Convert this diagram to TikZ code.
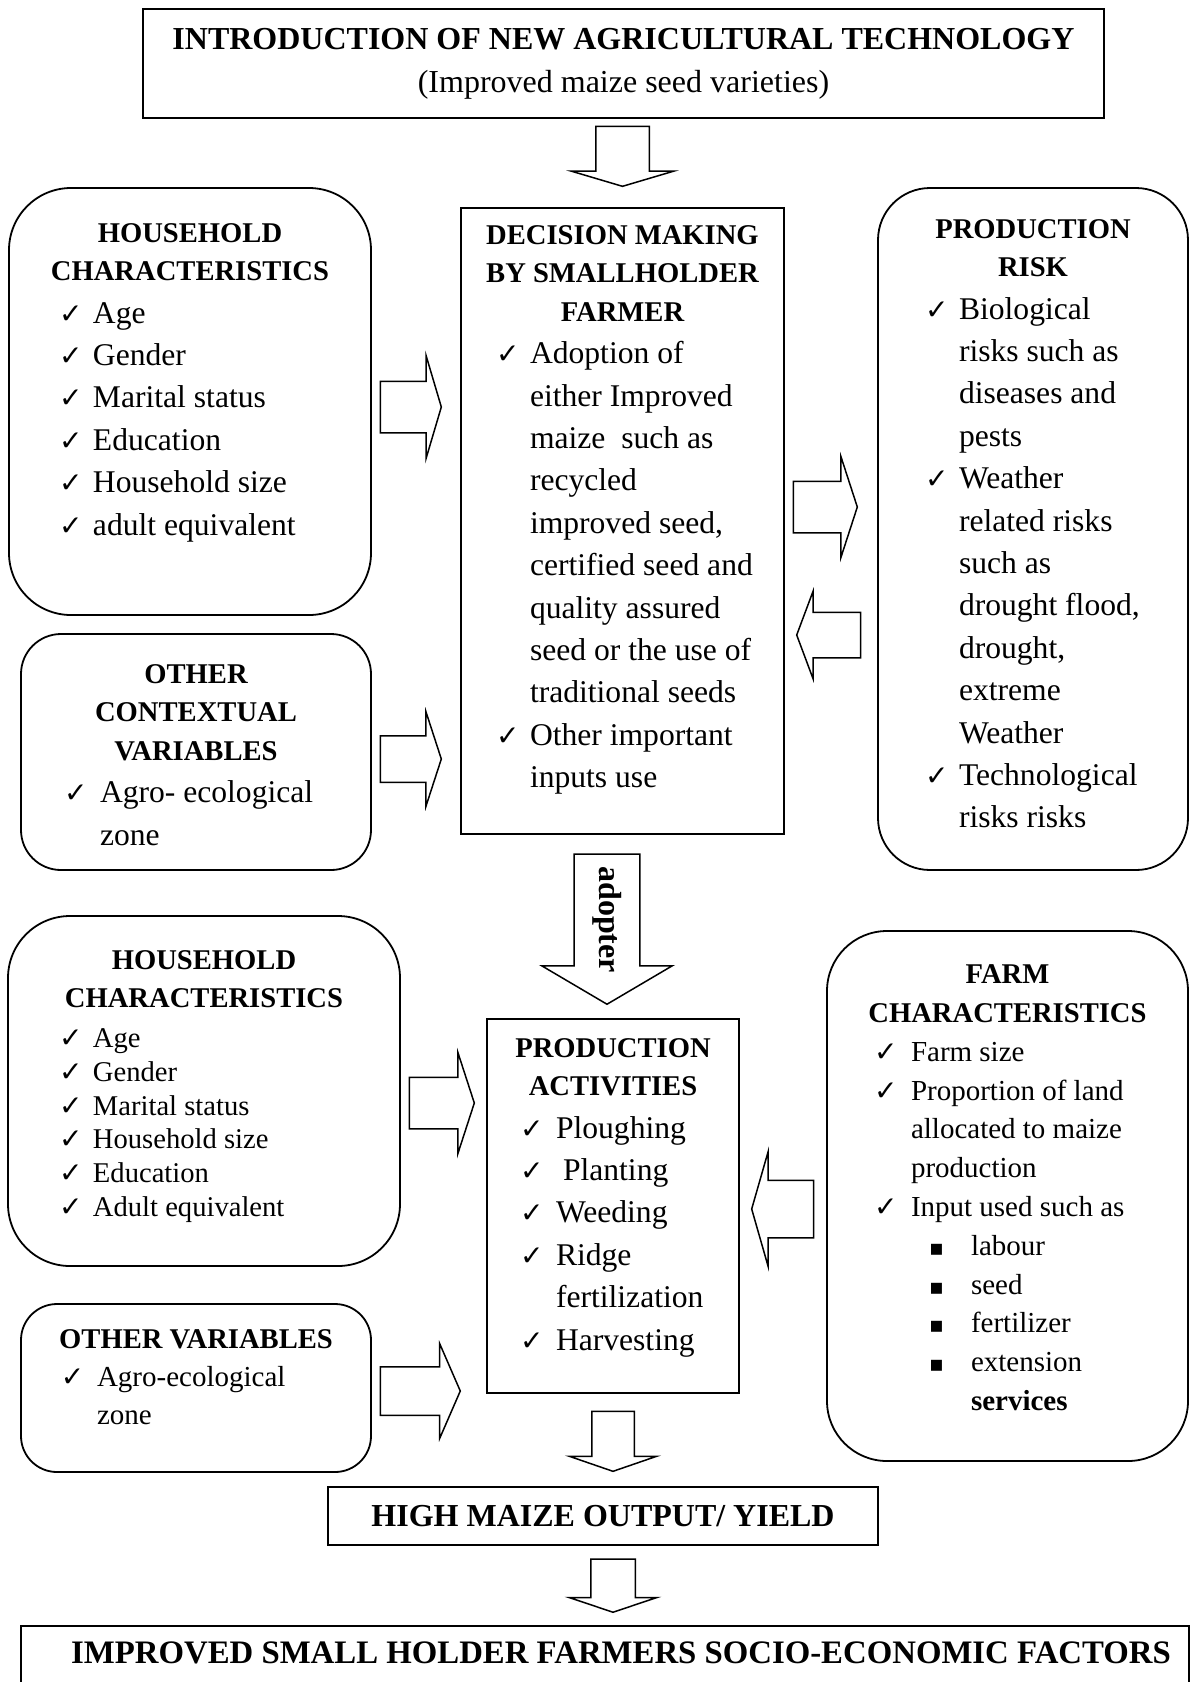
\documentclass[tikz,border=0pt]{standalone}
\usepackage{fontspec}
\setmainfont{Liberation Serif}
\newfontfamily\symfont{DejaVu Sans}
\usetikzlibrary{shapes.arrows,calc,positioning}
\newlength{\ckw}
\setlength{\ckw}{17pt}
\newcommand{\ckmark}{{\symfont\fontsize{14}{14}\selectfont ✓}}
\newcommand{\bulmark}{{\symfont\fontsize{11}{11}\selectfont ▪}}
\newcommand{\hd}[1]{{\fontsize{14.3}{19.3}\selectfont\bfseries\noindent\makebox[\hsize]{#1}\par}}
\newcommand{\ck}[1]{\par{\advance\hsize by 40pt\noindent\hangindent=\ckw\hangafter=1\let\\\newline\makebox[\ckw][l]{\ckmark}#1\par}}
\newcommand{\bl}[1]{\par{\advance\hsize by 40pt\noindent\hangindent=48.5pt\hangafter=1\let\\\newline\hspace*{27.5pt}\makebox[21pt][l]{\bulmark}#1\par}}
\tikzset{
  sqbox/.style={draw,line width=0.9pt,inner sep=0pt},
  rbox/.style={draw,line width=0.9pt,inner sep=0pt,rounded corners=#1},
  rbox/.default=31pt,
  txt/.style={anchor=north,inner sep=0pt,align=flush left,font=\fontsize{15.8}{21.2}\selectfont},
  ckgap/.code={\setlength{\ckw}{#1}},
  barrow/.style={single arrow,draw,line width=0.75pt,inner xsep=0pt,single arrow head indent=0pt,anchor=tip}
}
\begin{document}
\begin{tikzpicture}[x=0.5pt,y=-0.5pt]
\useasboundingbox (0,0) rectangle (1192,1682);

% top and bottom boxes
\node[sqbox,minimum width=480.5pt,minimum height=54.5pt,align=center,font=\fontsize{16}{21.5}\selectfont] (intro) at (623.5,63.5)
  {\textbf{INTRODUCTION OF NEW AGRICULTURAL TECHNOLOGY}\\(Improved maize seed varieties)};
\node[sqbox,minimum width=275pt,minimum height=29pt,font=\fontsize{16}{16}\selectfont\bfseries] (high) at (603,1516)
  {HIGH MAIZE OUTPUT/ YIELD};
\node[sqbox,minimum width=584pt,minimum height=47.5pt,anchor=north] (soc) at (605,1625) {};
\node[inner sep=0pt,font=\fontsize{16.4}{16.4}\selectfont\bfseries] (soct) at ([xshift=8pt,yshift=-14pt]soc.north)
  {IMPROVED SMALL HOLDER FARMERS SOCIO-ECONOMIC FACTORS};

% upper part
\node[rbox,minimum width=181pt,minimum height=213.5pt] (hh1) at (190,401.5) {};
\node[txt,text width=131pt,ckgap=17pt] (hh1t) at ([yshift=-17.8pt]hh1.north)
  {\hd{HOUSEHOLD}\hd{CHARACTERISTICS}
   \ck{Age}\ck{Gender}\ck{Marital status}\ck{Education}\ck{Household size}\ck{adult equivalent}};

\node[rbox=20pt,minimum width=175pt,minimum height=118pt] (ctx) at (196,752) {};
\node[txt,text width=132pt,ckgap=18pt] (ctxt) at ([yshift=-15.3pt]ctx.north)
  {\hd{OTHER}\hd{CONTEXTUAL}\hd{VARIABLES}
   \ck{Agro- ecological\\zone}};

\node[sqbox,minimum width=161.5pt,minimum height=313pt] (dec) at (622.5,521) {};
\node[txt,text width=126.5pt,ckgap=17pt] (dect) at ([yshift=-8.8pt]dec.north)
  {\hd{DECISION MAKING}\hd{BY SMALLHOLDER}\hd{FARMER}
   \ck{Adoption of\\either Improved\\maize\ \ such as\\recycled\\improved seed,\\certified seed and\\quality assured\\seed or the use of\\traditional seeds}
   \ck{Other important\\inputs use}};

\node[rbox=26pt,minimum width=155pt,minimum height=341pt] (risk) at (1033,529) {};
\node[txt,text width=108pt,ckgap=17pt] (riskt) at ([yshift=-15.8pt]risk.north)
  {\hd{PRODUCTION}\hd{RISK}
   \ck{Biological\\risks such as\\diseases and\\pests}
   \ck{Weather\\related risks\\such as\\drought flood,\\drought,\\extreme\\Weather}
   \ck{Technological\\risks risks}};

% lower part
\node[rbox,minimum width=196pt,minimum height=175pt] (hh2) at (204,1091) {};
\node[txt,text width=145pt,ckgap=17pt,font=\fontsize{14.3}{16.9}\selectfont] (hh2t) at ([yshift=-17.3pt]hh2.north)
  {\hd{HOUSEHOLD}\hd{CHARACTERISTICS}\vspace{3pt}
   \ck{Age}\ck{Gender}\ck{Marital status}\ck{Household size}\ck{Education}\ck{Adult equivalent}};

\node[rbox=18pt,minimum width=175pt,minimum height=84pt] (ovar) at (196,1388) {};
\node[txt,text width=135pt,ckgap=18pt,font=\fontsize{14.5}{19}\selectfont] (ovart) at ([yshift=-12.8pt]ovar.north)
  {\hd{OTHER VARIABLES}
   \ck{Agro-ecological\\zone}};

\node[sqbox,minimum width=126pt,minimum height=187pt] (prod) at (613,1206) {};
\node[txt,text width=93pt,ckgap=18pt] (prodt) at ([yshift=-9.8pt]prod.north)
  {\hd{PRODUCTION}\hd{ACTIVITIES}
   \ck{Ploughing}\ck{\hspace{3.5pt}Planting}\ck{Weeding}\ck{Ridge\\fertilization}\ck{Harvesting}};

\node[rbox=30pt,minimum width=180.5pt,minimum height=265pt] (farm) at (1007.5,1196) {};
\node[txt,text width=133.5pt,ckgap=18.5pt,font=\fontsize{14.5}{19.4}\selectfont] (farmt) at ([yshift=-17.3pt]farm.north)
  {\hd{FARM}\hd{CHARACTERISTICS}
   \ck{Farm size}\ck{Proportion of land\\allocated to maize\\production}\ck{Input used such as}
   \bl{labour}\bl{seed}\bl{fertilizer}\bl{extension\\\textbf{services}}};

% block arrows
\node[barrow,rotate=-90,minimum height=30pt,inner ysep=13pt,single arrow head extend=12.25pt,single arrow tip angle=147] (a1) at ([yshift=10pt]dec.north) {};
\node[barrow,minimum height=30.5pt,inner ysep=12.5pt,single arrow head extend=12.75pt,single arrow tip angle=147] (a2) at ([xshift=-9pt]dec.west |- 0,407) {};
\node[barrow,minimum height=32pt,inner ysep=12.5pt,single arrow head extend=12.5pt,single arrow tip angle=144] (a3) at ([xshift=-9.5pt]risk.west |- 0,507) {};
\node[barrow,rotate=180,minimum height=32pt,inner ysep=11pt,single arrow head extend=10.5pt,single arrow tip angle=139] (a4) at ([xshift=5.5pt]dec.east |- 0,635) {};
\node[barrow,minimum height=30.5pt,inner ysep=11.25pt,single arrow head extend=12pt,single arrow tip angle=144] (a5) at ([xshift=-9pt]dec.west |- 0,759) {};
\node[barrow,rotate=-90,minimum height=75pt,inner ysep=8.75pt,single arrow head extend=16.25pt,single arrow tip angle=119,font=\fontsize{16}{16}\selectfont\bfseries] (ad) at ([xshift=-3pt,yshift=6.5pt]prod.north) {adopter};
\node[barrow,minimum height=32.5pt,inner ysep=12.5pt,single arrow head extend=12.5pt,single arrow tip angle=144] (a7) at ([xshift=-5.5pt]prod.west |- 0,1103) {};
\node[barrow,minimum height=40pt,inner ysep=11.75pt,single arrow head extend=11.5pt,single arrow tip angle=133] (a8) at ([xshift=-12.5pt]prod.west |- 0,1391) {};
\node[barrow,rotate=180,minimum height=31pt,inner ysep=14pt,single arrow head extend=14.25pt,single arrow tip angle=148] (a9) at ([xshift=5.5pt]prod.east |- 0,1209) {};
\node[barrow,rotate=-90,minimum height=30pt,inner ysep=10.25pt,single arrow head extend=11.25pt,single arrow tip angle=142] (a10) at ([yshift=7pt]high.north -| prod.south) {};
\node[barrow,rotate=-90,minimum height=26.5pt,inner ysep=10.75pt,single arrow head extend=10.75pt,single arrow tip angle=143] (a11) at ([yshift=6pt]soc.north -| prod.south) {};
\end{tikzpicture}
\end{document}
